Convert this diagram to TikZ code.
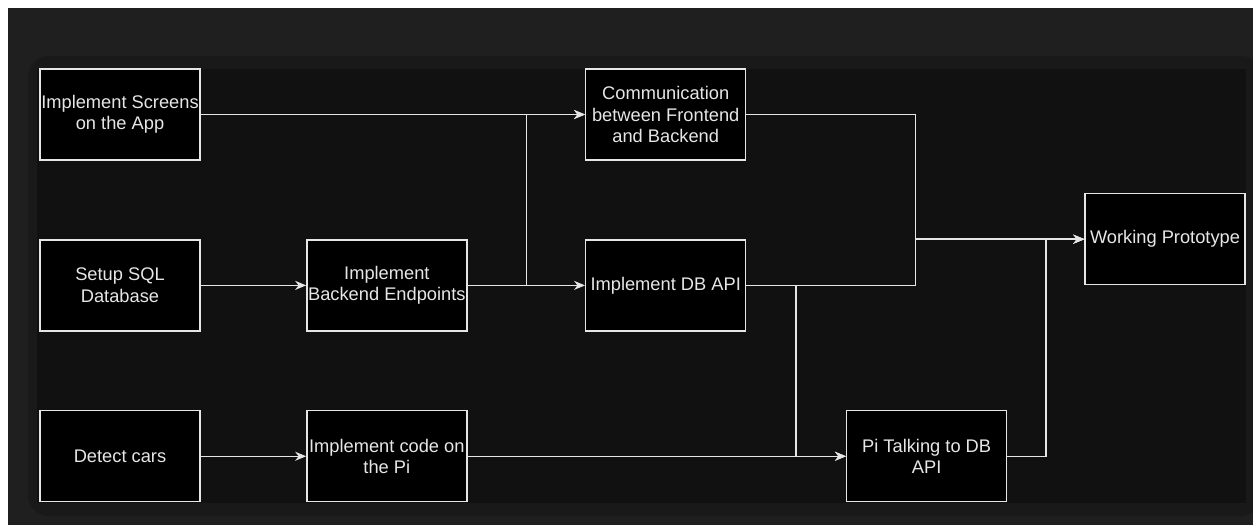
\documentclass[tikz,border=0pt]{standalone}
\usepackage{fontspec}
\setmainfont{Liberation Sans}
\usetikzlibrary{arrows.meta,positioning,calc}
\definecolor{cpage}{HTML}{1F1F1F}
\definecolor{cframe}{HTML}{191919}
\definecolor{cpanel}{HTML}{111111}
\definecolor{cline}{HTML}{E6E6E6}

\begin{document}
\begin{tikzpicture}[x=0.02cm,y=-0.02cm,node distance=15.7mm and 21.1mm,
  box/.style={rectangle,draw=cline,fill=black,line width=0.8pt,align=center,
              minimum width=32mm,minimum height=18.2mm,inner sep=0pt,text=cline,
              font=\fontsize{10.4}{12.2}\selectfont},
  ar/.style={-{Stealth[length=2.2mm,width=1.8mm,inset=0.7mm]},line width=0.8pt,cline}]
\useasboundingbox (0,0) rectangle (1253,525);
% screenshot background
\fill[white] (0,0) rectangle (1253,525);
\fill[cpage] (8,8) rectangle (1253,525);
\fill[cframe,rounded corners=12pt] (28,56) rectangle (1262,516);
\fill[cpanel] (37,69) rectangle (1246,503);
\node[box] at (120,114.5)                (scr)  {Implement Screens\\on the App};
\node[box,below=of scr]                  (sql)  {Setup SQL\\Database};
\node[box,below=of sql]                  (det)  {Detect cars};
\node[box,right=of sql]                  (be)   {Implement\\Backend Endpoints};
\node[box,right=of det]                  (code) {Implement code on\\the Pi};
\node[box,right=23.5mm of be]            (db)   {Implement DB API};
\node[box,above=of db]                   (comm) {Communication\\between Frontend\\and Backend};
\node[box,right=75.7mm of code]          (pi)   {Pi Talking to DB\\API};
\node[box,right=67.6mm of db.north east] (wp)   {Working Prototype};
\coordinate (j1) at ($(be.east)!.5!(db.west)$);
\draw[ar] (scr) -- (comm);
\draw[ar] (sql) -- (be);
\draw[ar] (be) -- (db);
\draw[ar] (be.east) -- (j1) |- (comm.west);
\draw[ar] (det) -- (code);
\draw[ar] (code) -- (pi);
\draw[ar] (db.east) -| ($(db.east)!.5!(pi.west)$) |- (pi.west);
\draw[ar] (comm.east) -| ($(comm.east)!.5!(wp.west)$) |- (wp.west);
\draw[ar] (db.east) -| ($(db.east)!.5!(wp.west)$) |- (wp.west);
\draw[ar] (pi.east) -| ($(pi.east)!.5!(wp.west)$) |- (wp.west);
\end{tikzpicture}
\end{document}
